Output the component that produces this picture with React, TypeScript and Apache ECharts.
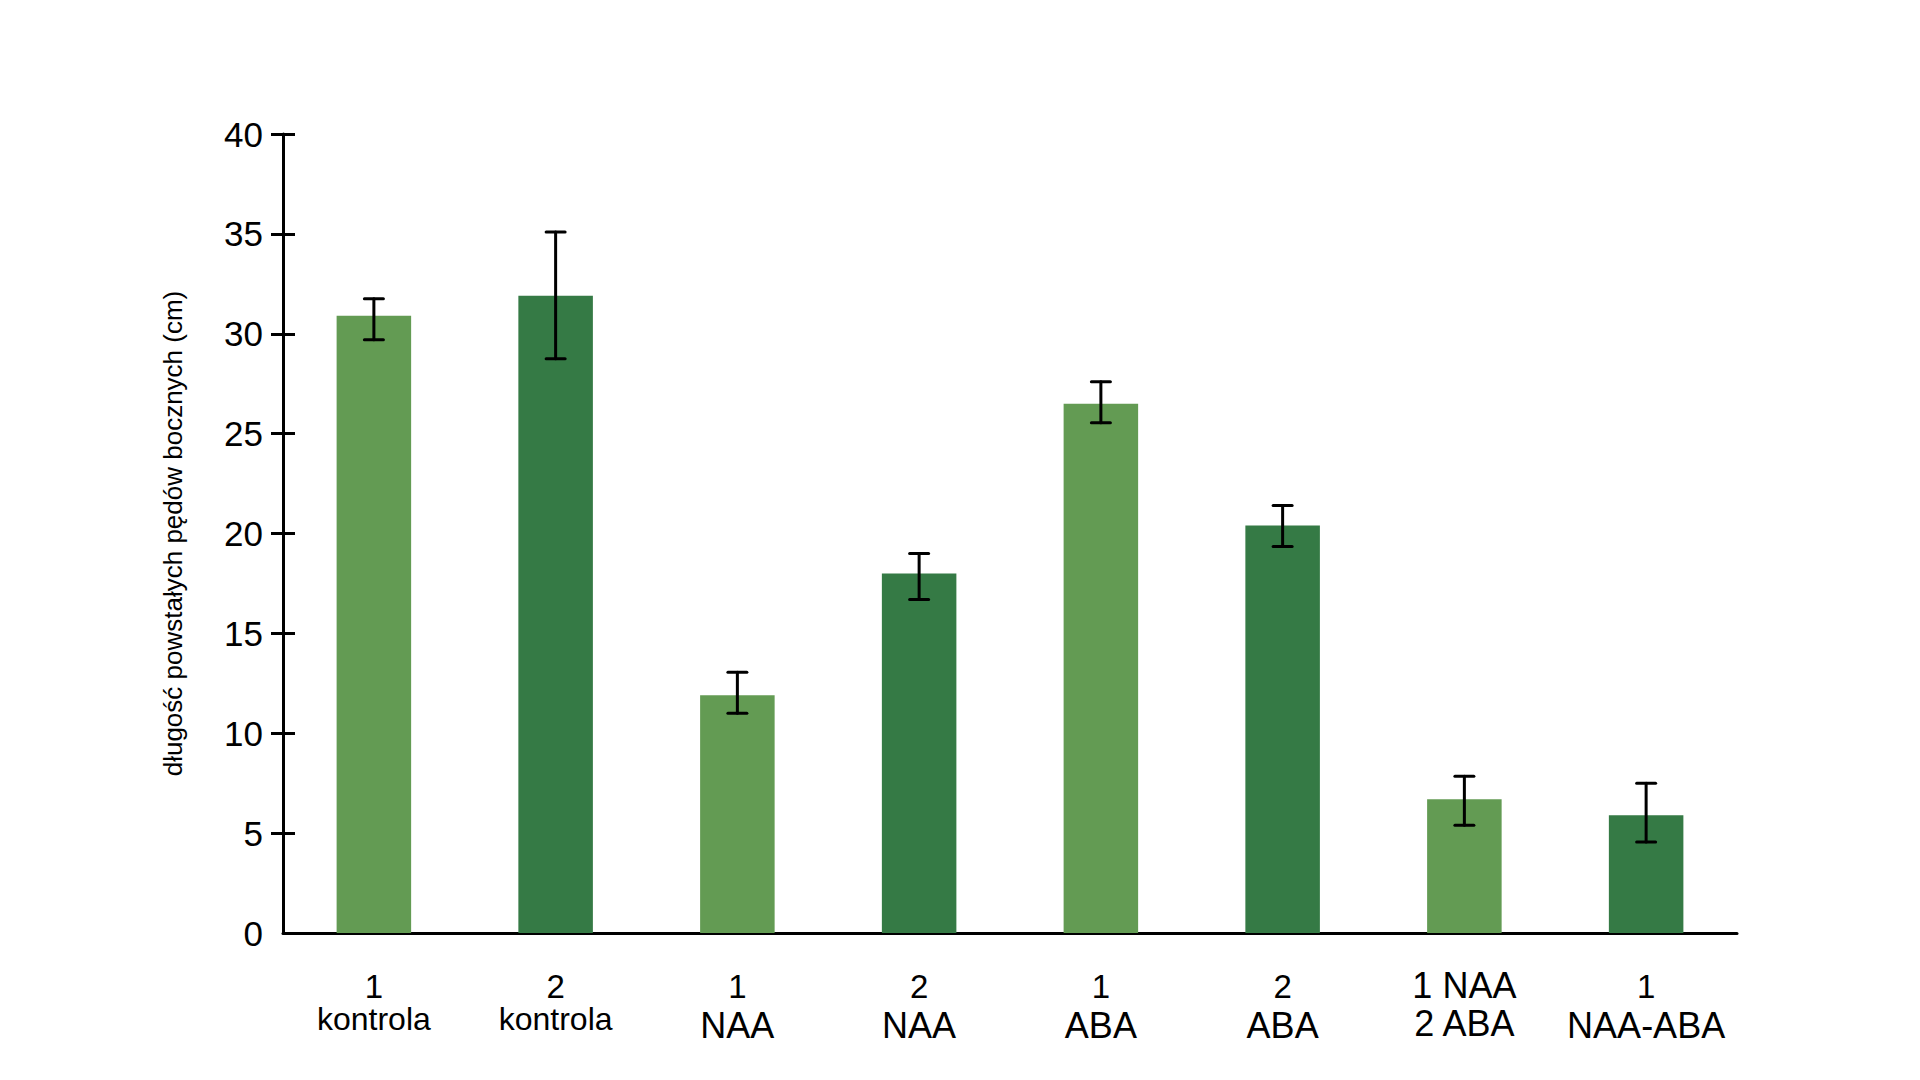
import React, { useEffect, useRef } from "react";
import * as echarts from "echarts";

const categories = [
  "1\nkontrola",
  "2\nkontrola",
  "1\nNAA",
  "2\nNAA",
  "1\nABA",
  "2\nABA",
  "1 NAA\n2 ABA",
  "1\nNAA-ABA",
];
const meanValues = [30.9, 31.9, 11.9, 18.0, 26.5, 20.4, 6.7, 5.9];
const errHigh = [31.75, 35.1, 13.05, 19.0, 27.6, 21.4, 7.85, 7.5];
const errLow = [29.7, 28.75, 11.0, 16.7, 25.55, 19.35, 5.4, 4.55];
const yMin = 0;
const yMax = 40;
const yInterval = 5;
const yTickValues = [5, 10, 15, 20, 25, 30, 35, 40];
const yAxisName = "długość powstałych pędów bocznych (cm)";

const LIGHT = "#639b53";
const DARK = "#357a45";
const FONT = "'Liberation Sans', Arial, Helvetica, sans-serif";

export default function App() {
  const ref = useRef<HTMLDivElement>(null);

  useEffect(() => {
    if (!ref.current) return;
    const chart = echarts.init(ref.current, undefined, { renderer: "svg" });

    const barData = meanValues.map((v, i) => ({
      value: v,
      itemStyle: { color: i % 2 === 0 ? LIGHT : DARK },
    }));
    const errData = categories.map((_, i) => [i, errLow[i], errHigh[i]]);

    const option: any = {
      animation: false,
      backgroundColor: "#ffffff",
      textStyle: { fontFamily: FONT },
      grid: { left: 283, right: 183, top: 134, bottom: 147, containLabel: false },
      xAxis: {
        type: "category",
        data: categories,
        axisLine: { show: true, lineStyle: { color: "#000", width: 3 } },
        axisTick: { show: false },
        axisLabel: {
          interval: 0,
          margin: 33,
          color: "#000",
          formatter: (value: string) => {
            const [a, b] = value.split("\n");
            const sa = /^\d+$/.test(a) ? "n" : "m";
            const sb = b === "kontrola" ? "k" : "m";
            return `{${sa}|${a}}\n{${sb}|${b}}`;
          },
          rich: {
            n: { fontSize: 33, lineHeight: 40, fontFamily: FONT, color: "#000" },
            m: { fontSize: 36, lineHeight: 38, fontFamily: FONT, color: "#000" },
            k: { fontSize: 32, lineHeight: 26, fontFamily: FONT, color: "#000" },
          },
        },
        splitLine: { show: false },
      },
      yAxis: [
        {
          type: "value",
          position: "left",
          min: yMin,
          max: yMax,
          interval: yInterval,
          name: yAxisName,
          nameLocation: "middle",
          nameGap: 97,
          nameTextStyle: { fontSize: 26, color: "#000", fontFamily: FONT },
          axisLine: { show: true, lineStyle: { color: "#000", width: 3 } },
          axisTick: {
            show: true,
            inside: false,
            length: 12,
            customValues: yTickValues,
            lineStyle: { color: "#000", width: 3 },
          },
          axisLabel: { color: "#000", fontSize: 35, margin: 20, fontFamily: FONT },
          splitLine: { show: false },
        },
        {
          type: "value",
          position: "left",
          min: yMin,
          max: yMax,
          interval: yInterval,
          axisLine: { show: false },
          axisTick: {
            show: true,
            inside: true,
            length: 12,
            lineStyle: { color: "#000", width: 3 },
          },
          axisLabel: { show: false },
          splitLine: { show: false },
        },
      ],
      series: [
        {
          type: "bar",
          data: barData,
          barWidth: "41%",
          yAxisIndex: 0,
          z: 2,
        },
        {
          type: "custom",
          yAxisIndex: 0,
          z: 5,
          data: errData,
          encode: { x: 0, y: [1, 2] },
          renderItem: (params: any, api: any) => {
            const idx = api.value(0);
            const lo = api.coord([idx, api.value(1)]);
            const hi = api.coord([idx, api.value(2)]);
            const half = 9.5;
            const style = { stroke: "#000", lineWidth: 3, lineCap: "round" };
            return {
              type: "group",
              children: [
                { type: "line", shape: { x1: lo[0], y1: lo[1], x2: hi[0], y2: hi[1] }, style },
                { type: "line", shape: { x1: hi[0] - half, y1: hi[1], x2: hi[0] + half, y2: hi[1] }, style },
                { type: "line", shape: { x1: lo[0] - half, y1: lo[1], x2: lo[0] + half, y2: lo[1] }, style },
              ],
            };
          },
        },
      ],
    };

    chart.setOption(option);
    return () => chart.dispose();
  }, []);

  return (
    <div
      ref={ref}
      style={{ position: "fixed", left: 0, top: 0, width: 1920, height: 1080, background: "#fff" }}
    />
  );
}
